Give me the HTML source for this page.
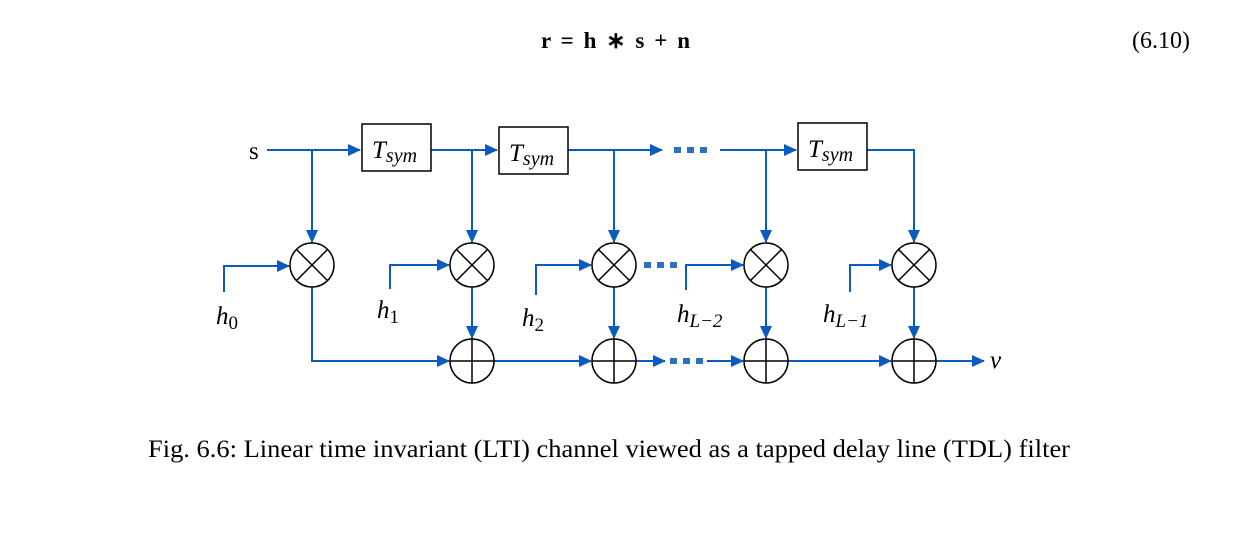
<!DOCTYPE html>
<html><head><meta charset="utf-8"><style>
body{margin:0;background:#fff;width:1233px;height:537px;overflow:hidden}
svg{display:block}
text{font-family:"Liberation Serif",serif;fill:#000}
</style></head><body>
<svg width="1233" height="537" viewBox="0 0 1233 537">
<defs><marker id="ar" markerWidth="13" markerHeight="12" refX="12" refY="6" orient="auto" markerUnits="userSpaceOnUse"><path d="M0,0 L13,6 L0,12 z" fill="#0a5bbf"/></marker></defs>
<g>
<text x="541" y="48" font-size="23" font-weight="bold" textLength="149">r = h ∗ s + n</text>
<text x="1190" y="48" font-size="24" text-anchor="end">(6.10)</text>
</g>
<g stroke="#0a5bbf" stroke-width="2" fill="none">
<path d="M267 150 H360" marker-end="url(#ar)"/>
<path d="M312 150 V242" marker-end="url(#ar)"/>
<path d="M431 150 H497" marker-end="url(#ar)"/>
<path d="M472 150 V242" marker-end="url(#ar)"/>
<path d="M568 150 H662" marker-end="url(#ar)"/>
<path d="M614 150 V242" marker-end="url(#ar)"/>
<path d="M720 150 H796" marker-end="url(#ar)"/>
<path d="M766 150 V242" marker-end="url(#ar)"/>
<path d="M867 150 H914 V242" marker-end="url(#ar)"/>
<path d="M224 292 V266 H289" marker-end="url(#ar)"/>
<path d="M390 289 V265 H449" marker-end="url(#ar)"/>
<path d="M536 295 V265 H591" marker-end="url(#ar)"/>
<path d="M686 290 V265 H743" marker-end="url(#ar)"/>
<path d="M850 292 V265 H891" marker-end="url(#ar)"/>
<path d="M472 287 V338" marker-end="url(#ar)"/>
<path d="M614 287 V338" marker-end="url(#ar)"/>
<path d="M766 287 V338" marker-end="url(#ar)"/>
<path d="M914 287 V338" marker-end="url(#ar)"/>
<path d="M312 287 V361 H449" marker-end="url(#ar)"/>
<path d="M494 361 H591" marker-end="url(#ar)"/>
<path d="M636 361 H665" marker-end="url(#ar)"/>
<path d="M707 361 H743" marker-end="url(#ar)"/>
<path d="M788 361 H891" marker-end="url(#ar)"/>
<path d="M936 361 H984" marker-end="url(#ar)"/>
</g>
<g fill="#2f6fbe">
<rect x="674" y="147" width="7" height="6"/><rect x="687" y="147" width="7" height="6"/><rect x="700" y="147" width="7" height="6"/>
<rect x="644" y="262" width="7" height="6"/><rect x="657" y="262" width="7" height="6"/><rect x="670" y="262" width="7" height="6"/>
<rect x="670" y="358" width="7" height="6"/><rect x="683" y="358" width="7" height="6"/><rect x="696" y="358" width="7" height="6"/>
</g>
<g stroke="#000" stroke-width="1.5" fill="#fff">
<rect x="362" y="124" width="69" height="47"/><rect x="499" y="127" width="69" height="47"/><rect x="798" y="123" width="69" height="47"/>
</g>
<g font-size="25" font-style="italic">
<text x="372" y="158">T<tspan font-size="20" dy="4">sym</tspan></text>
<text x="509" y="161">T<tspan font-size="20" dy="4">sym</tspan></text>
<text x="808" y="157">T<tspan font-size="20" dy="4">sym</tspan></text>
</g>
<g stroke="#000" stroke-width="1.5" fill="#fff">
<circle cx="312" cy="265" r="22"/><circle cx="472" cy="265" r="22"/><circle cx="614" cy="265" r="22"/><circle cx="766" cy="265" r="22"/><circle cx="914" cy="265" r="22"/>
<path d="M296.4 249.4L327.6 280.6M327.6 249.4L296.4 280.6M456.4 249.4L487.6 280.6M487.6 249.4L456.4 280.6M598.4 249.4L629.6 280.6M629.6 249.4L598.4 280.6M750.4 249.4L781.6 280.6M781.6 249.4L750.4 280.6M898.4 249.4L929.6 280.6M929.6 249.4L898.4 280.6"/>
</g>
<g stroke="#000" stroke-width="1.5" fill="#fff">
<circle cx="472" cy="361" r="22"/><circle cx="614" cy="361" r="22"/><circle cx="766" cy="361" r="22"/><circle cx="914" cy="361" r="22"/>
<path d="M450 361H494M472 339V383M592 361H636M614 339V383M744 361H788M766 339V383M892 361H936M914 339V383"/>
</g>
<g font-size="25">
<text x="249" y="159">s</text>
<text x="990" y="368" font-style="italic">v</text>
<text x="216" y="324" font-style="italic">h<tspan font-size="19" font-style="normal" dy="5">0</tspan></text>
<text x="377" y="318" font-style="italic">h<tspan font-size="19" font-style="normal" dy="5">1</tspan></text>
<text x="522" y="326" font-style="italic">h<tspan font-size="19" font-style="normal" dy="5">2</tspan></text>
<text x="677" y="322" font-style="italic">h<tspan font-size="19" dy="5">L−2</tspan></text>
<text x="823" y="322" font-style="italic">h<tspan font-size="19" dy="5">L−1</tspan></text>
</g>
<text x="148" y="457" font-size="25" textLength="922" lengthAdjust="spacingAndGlyphs">Fig. 6.6: Linear time invariant (LTI) channel viewed as a tapped delay line (TDL) filter</text>
</svg>
</body></html>
